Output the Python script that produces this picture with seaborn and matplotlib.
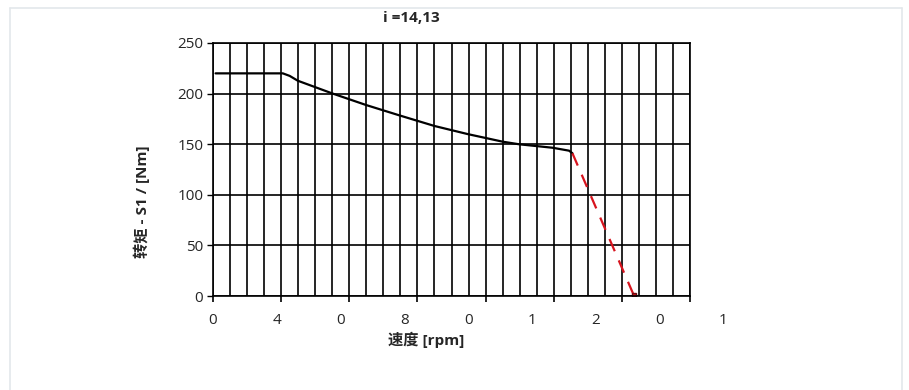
import matplotlib
matplotlib.use("Agg")
import matplotlib.pyplot as plt
from matplotlib.lines import Line2D
import seaborn as sns
import pandas as pd

# ----------------------------------------
# Data (speed in grid units, torque in Nm)
# ----------------------------------------
speed_s1 = [0.15, 4.1, 4.5, 4.98, 6.98, 8.99, 10.94, 13.0, 14.95, 17.0, 17.98, 19.93, 20.9, 21.1]
torque_s1 = [220, 220, 217.5, 212.7, 200.3, 188.7, 178.5, 168, 160, 152.5, 149.9, 146.5, 143.6, 141]
speed_drop = [21.1, 24.72]
torque_drop = [141, 0]

tick_labels = ["0", "4", "0", "8", "0", "1", "2", "0", "1"]
label_step = 3.745
y_ticks = [0, 50, 100, 150, 200, 250]

s1 = pd.DataFrame({"speed": speed_s1, "torque": torque_s1})
drop = pd.DataFrame({"speed": speed_drop, "torque": torque_drop})

# ----------------------------------------
# Plot
# ----------------------------------------
sns.set_theme(style="white")
plt.rcParams["font.family"] = ["Open Sans", "Noto Sans CJK SC", "DejaVu Sans"]

fig = plt.figure(figsize=(9.09, 3.9), dpi=100)
ax = fig.add_axes([213 / 909, 1 - 296 / 390, 477 / 909, 253 / 390])

sns.lineplot(data=s1, x="speed", y="torque", ax=ax, color="black", linewidth=1.6)
sns.lineplot(data=drop, x="speed", y="torque", ax=ax, color="#d7141e", linewidth=1.6,
             dashes=False, linestyle=(0, (6, 4.5)))
ax.plot(speed_drop[-1:], [1], marker="s", markersize=3, color="#d7141e",
        markeredgecolor="#6b0a0f", linestyle="none")

ax.set_xlim(0, 28)
ax.set_ylim(0, 250)
ax.set_xticks(range(0, 29, 4))
ax.set_xticks(range(0, 29), minor=True)
ax.set_xticklabels([])
ax.set_yticks(y_ticks)
ax.set_yticklabels([str(v) for v in y_ticks], fontsize=11)

ax.grid(True, which="both", axis="x", color="black", linewidth=1.2)
ax.grid(True, which="major", axis="y", color="black", linewidth=1.2)
ax.set_axisbelow(True)
ax.tick_params(axis="x", which="major", direction="out", length=4, width=1.2, color="black", bottom=True)
ax.tick_params(axis="x", which="minor", length=0)
ax.tick_params(axis="y", direction="out", length=4, width=1, color="black", left=True, pad=3)
for sp in ax.spines.values():
    sp.set_color("black")
    sp.set_linewidth(1.2)

# x tick labels as drawn in the reference (own spacing)
for i, lab in enumerate(tick_labels):
    ax.text(i * label_step, -0.095, lab, transform=ax.get_xaxis_transform(),
            ha="center", va="center", fontsize=11, clip_on=False)

ax.set_xlabel("速度 [rpm]", fontsize=11, fontweight="bold", labelpad=0)
ax.xaxis.set_label_coords((426 - 213) / 477, -(331.5 - 296) / 253)
ax.set_ylabel("转矩 - S1 / [Nm]", fontsize=11, fontweight="bold")
ax.yaxis.set_label_coords(-(213 - 150.5) / 477, (296 - 202) / 253)
ax.set_title("i =14,13", fontsize=11, fontweight="bold", x=(411 - 213) / 477, y=1.0, pad=15)

# light frame around the figure
frame_col = "#e3e7eb"
xl, xr, yt = 10 / 909, 902 / 909, 1 - 8 / 390
fig.add_artist(Line2D([xl, xl], [-0.05, yt], color=frame_col, linewidth=1.2, transform=fig.transFigure))
fig.add_artist(Line2D([xl, xr], [yt, yt], color=frame_col, linewidth=1.2, transform=fig.transFigure))
fig.add_artist(Line2D([xr, xr], [yt, -0.05], color=frame_col, linewidth=1.2, transform=fig.transFigure))

fig.savefig("out.png", dpi=100)
plt.close(fig)
